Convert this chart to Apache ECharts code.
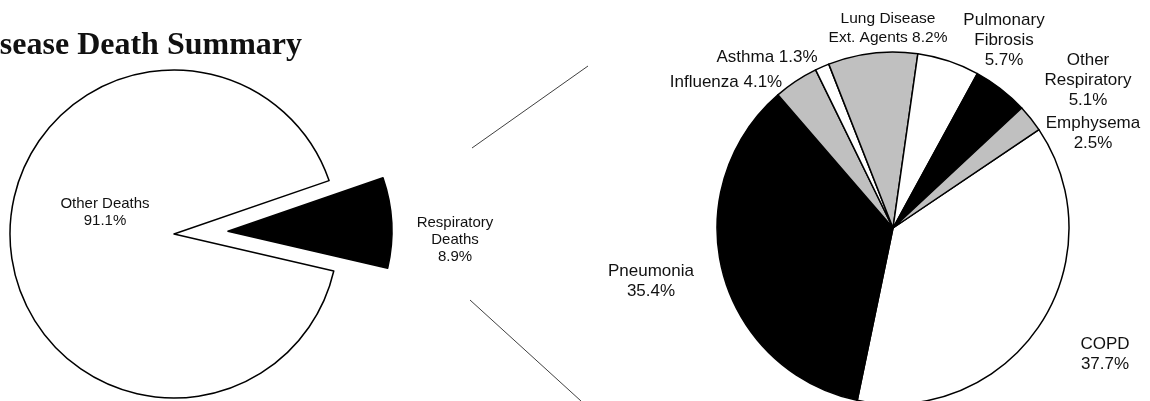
<!DOCTYPE html>
<html><head><meta charset="utf-8">
<script src="https://cdn.jsdelivr.net/npm/echarts@6/dist/echarts.min.js"></script>
<style>html,body{margin:0;padding:0;background:#fff}#c{width:1150px;height:401px}</style>
</head><body><div id="c"></div>
<script>
// ---- data ----
const titleText = 'Respiratory Disease Death Summary';
const mainCategories = ['Respiratory Deaths', 'Other Deaths'];
const mainValues = [8.9, 91.1];
const subCategories = ['COPD', 'Pneumonia', 'Influenza', 'Asthma', 'Lung Disease Ext. Agents', 'Pulmonary Fibrosis', 'Other Respiratory', 'Emphysema'];
const subValues = [37.7, 35.4, 4.1, 1.3, 8.2, 5.7, 5.1, 2.5];

// ---- styling / layout ----
const mainColors = ['#000000', '#ffffff'];
const subColors = ['#ffffff', '#000000', '#c0c0c0', '#ffffff', '#c0c0c0', '#ffffff', '#000000', '#c0c0c0'];
const mainLabelText = ['Respiratory\nDeaths\n', 'Other Deaths\n'];
const subLabelText = ['COPD\n', 'Pneumonia\n', 'Influenza ', 'Asthma ', 'Lung Disease\nExt. Agents ', 'Pulmonary\nFibrosis\n', 'Other\nRespiratory\n', 'Emphysema\n'];
const mainCenter = [174, 234], mainRadius = 164, mainStart = 19, explode = 54;
const subCenter = [893, 228], subRadius = 176;
const mainLabelOffset = [[281, 6], [-69, -22]];
const subLabelOffset = [[212, 126], [-242, 53], [-167, -146], [-126, -171], [-5, -200], [111, -188], [195, -148], [200, -95]];
const subFontSize = [17, 17, 17, 17, 15.5, 17, 17, 17];

const fmt = v => v.toFixed(1) + '%';
const total = mainValues.reduce((a, b) => a + b, 0);
const midDeg = mainStart - 360 * mainValues[0] / total / 2;
const midRad = midDeg * Math.PI / 180;
const explodedCenter = [mainCenter[0] + explode * Math.cos(midRad), mainCenter[1] - explode * Math.sin(midRad)];

const hidden = {color: 'rgba(0,0,0,0)', borderWidth: 0};
const labelBase = {show: true, position: 'inside', fontFamily: 'Liberation Sans', fontSize: 15, lineHeight: 17, color: '#111'};

const chart = echarts.init(document.getElementById('c'), null, {renderer: 'canvas'});
chart.setOption({
  animation: false,
  backgroundColor: '#fff',
  title: {
    text: titleText,
    right: 848, top: 30, padding: 0,
    textStyle: {fontFamily: 'Liberation Serif', fontWeight: 'bold', fontSize: 32, color: '#111'}
  },
  graphic: [
    {type: 'line', silent: true, shape: {x1: 472, y1: 148, x2: 588, y2: 66}, style: {stroke: '#404040', lineWidth: 1}},
    {type: 'line', silent: true, shape: {x1: 470, y1: 300, x2: 581, y2: 401}, style: {stroke: '#404040', lineWidth: 1}}
  ],
  series: [
    {
      // primary pie: the remaining slice
      type: 'pie', silent: true,
      center: mainCenter, radius: mainRadius,
      startAngle: mainStart, clockwise: true,
      avoidLabelOverlap: false,
      emphasis: {disabled: true},
      labelLine: {show: false},
      label: labelBase,
      labelLayout: p => ({x: mainCenter[0] + mainLabelOffset[p.dataIndex][0], y: mainCenter[1] + mainLabelOffset[p.dataIndex][1], align: 'center', verticalAlign: 'middle'}),
      data: mainCategories.map((n, i) => ({
        name: n, value: mainValues[i],
        itemStyle: i === 0 ? hidden : {color: mainColors[i], borderColor: '#000', borderWidth: 1.5},
        label: i === 0 ? {show: false} : {formatter: mainLabelText[i] + fmt(mainValues[i])}
      }))
    },
    {
      // primary pie: exploded slice
      type: 'pie', silent: true,
      center: explodedCenter, radius: mainRadius,
      startAngle: mainStart, clockwise: true,
      avoidLabelOverlap: false,
      emphasis: {disabled: true},
      labelLine: {show: false},
      label: labelBase,
      labelLayout: p => ({x: mainCenter[0] + mainLabelOffset[p.dataIndex][0], y: mainCenter[1] + mainLabelOffset[p.dataIndex][1], align: 'center', verticalAlign: 'middle'}),
      data: mainCategories.map((n, i) => ({
        name: n, value: mainValues[i],
        itemStyle: i === 0 ? {color: mainColors[i], borderColor: '#000', borderWidth: 1.5} : hidden,
        label: i === 0 ? {formatter: mainLabelText[i] + fmt(mainValues[i])} : {show: false}
      }))
    },
    {
      type: 'pie', silent: true,
      center: subCenter, radius: subRadius,
      startAngle: 34, clockwise: true,
      avoidLabelOverlap: false,
      emphasis: {disabled: true},
      labelLine: {show: false},
      label: {show: true, position: 'outside', fontFamily: 'Liberation Sans', fontSize: 17, lineHeight: 20, color: '#111'},
      labelLayout: p => ({x: subCenter[0] + subLabelOffset[p.dataIndex][0], y: subCenter[1] + subLabelOffset[p.dataIndex][1], align: 'center', verticalAlign: 'middle'}),
      data: subCategories.map((n, i) => ({
        name: n, value: subValues[i],
        itemStyle: {color: subColors[i], borderColor: '#000', borderWidth: 1.5},
        label: {formatter: subLabelText[i] + fmt(subValues[i]), fontSize: subFontSize[i], lineHeight: subFontSize[i] < 17 ? 19 : 20}
      }))
    }
  ]
});
</script>
</body></html>
